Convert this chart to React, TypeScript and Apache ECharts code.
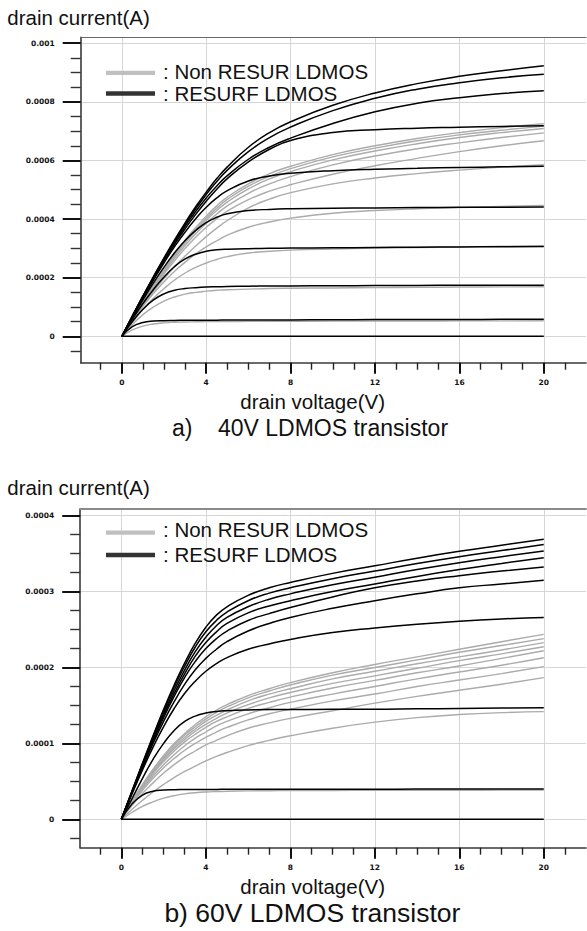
import React, { useEffect, useRef } from "react";
import * as echarts from "echarts";

// Drain voltage sample points (V)
const VOLTS = [0, 0.5, 1, 1.5, 2, 2.5, 3, 3.5, 4, 4.5, 5, 6, 7, 8, 10, 12, 14, 16, 18, 20];

// a) 40V LDMOS — drain current in units of 1e-4 A
const TOP_RESURF: number[][] = [
  [0, 0, 0, 0, 0, 0, 0, 0, 0, 0, 0, 0, 0, 0, 0, 0, 0, 0, 0, 0],
  [0, 0.33, 0.47, 0.52, 0.535, 0.542, 0.546, 0.548, 0.55, 0.552, 0.553, 0.556, 0.558, 0.56, 0.565, 0.57, 0.573, 0.576, 0.578, 0.58],
  [0, 0.5, 0.92, 1.24, 1.45, 1.57, 1.63, 1.66, 1.68, 1.69, 1.7, 1.71, 1.715, 1.72, 1.725, 1.73, 1.735, 1.74, 1.742, 1.745],
  [0, 0.58, 1.12, 1.6, 2.02, 2.38, 2.64, 2.8, 2.9, 2.95, 2.97, 2.99, 3.0, 3.01, 3.02, 3.03, 3.04, 3.05, 3.055, 3.06],
  [0, 0.63, 1.24, 1.82, 2.36, 2.85, 3.27, 3.61, 3.88, 4.06, 4.18, 4.29, 4.33, 4.35, 4.37, 4.38, 4.39, 4.4, 4.405, 4.41],
  [0, 0.66, 1.3, 1.92, 2.51, 3.06, 3.56, 4.01, 4.4, 4.72, 4.97, 5.3, 5.47, 5.56, 5.65, 5.7, 5.73, 5.76, 5.78, 5.8],
  [0, 0.67, 1.33, 1.96, 2.57, 3.14, 3.67, 4.16, 4.61, 5.02, 5.38, 5.95, 6.38, 6.68, 6.95, 7.05, 7.1, 7.13, 7.16, 7.18],
  [0, 0.68, 1.35, 1.99, 2.61, 3.2, 3.75, 4.26, 4.72, 5.13, 5.48, 6.04, 6.45, 6.76, 7.26, 7.66, 7.95, 8.14, 8.28, 8.38],
  [0, 0.69, 1.37, 2.02, 2.65, 3.25, 3.82, 4.35, 4.84, 5.28, 5.67, 6.3, 6.78, 7.14, 7.7, 8.12, 8.43, 8.65, 8.82, 8.94],
  [0, 0.7, 1.38, 2.04, 2.68, 3.29, 3.87, 4.42, 4.92, 5.38, 5.78, 6.45, 6.95, 7.32, 7.88, 8.3, 8.62, 8.87, 9.06, 9.23],
];
const TOP_NON_RESURF: number[][] = [
  [0, 0.22, 0.35, 0.42, 0.46, 0.48, 0.49, 0.495, 0.5, 0.503, 0.505, 0.51, 0.512, 0.514, 0.517, 0.52, 0.523, 0.526, 0.528, 0.53],
  [0, 0.4, 0.74, 1.0, 1.2, 1.34, 1.44, 1.5, 1.54, 1.57, 1.59, 1.61, 1.63, 1.64, 1.65, 1.66, 1.67, 1.68, 1.685, 1.69],
  [0, 0.48, 0.92, 1.3, 1.63, 1.92, 2.16, 2.35, 2.5, 2.62, 2.72, 2.84, 2.9, 2.94, 2.98, 3.01, 3.03, 3.05, 3.07, 3.08],
  [0, 0.53, 1.02, 1.46, 1.86, 2.22, 2.53, 2.81, 3.05, 3.26, 3.45, 3.72, 3.9, 4.03, 4.2, 4.29, 4.35, 4.39, 4.43, 4.46],
  [0, 0.55, 1.06, 1.53, 1.97, 2.37, 2.74, 3.08, 3.4, 3.69, 3.95, 4.38, 4.68, 4.9, 5.2, 5.4, 5.55, 5.67, 5.77, 5.85],
  [0, 0.57, 1.12, 1.63, 2.12, 2.58, 3.0, 3.38, 3.72, 4.01, 4.27, 4.66, 4.95, 5.17, 5.53, 5.82, 6.07, 6.3, 6.5, 6.67],
  [0, 0.58, 1.14, 1.67, 2.18, 2.66, 3.1, 3.5, 3.86, 4.17, 4.45, 4.88, 5.2, 5.45, 5.85, 6.15, 6.4, 6.6, 6.78, 6.94],
  [0, 0.59, 1.16, 1.7, 2.22, 2.72, 3.18, 3.59, 3.96, 4.29, 4.58, 5.03, 5.37, 5.62, 6.02, 6.32, 6.57, 6.78, 6.95, 7.09],
  [0, 0.6, 1.17, 1.72, 2.25, 2.76, 3.23, 3.65, 4.03, 4.37, 4.67, 5.12, 5.46, 5.72, 6.12, 6.42, 6.67, 6.87, 7.03, 7.17],
  [0, 0.6, 1.18, 1.74, 2.28, 2.8, 3.28, 3.71, 4.1, 4.45, 4.75, 5.2, 5.55, 5.8, 6.2, 6.5, 6.75, 6.95, 7.12, 7.25],
];

// b) 60V LDMOS — drain current in units of 1e-4 A
const BOT_RESURF: number[][] = [
  [0, 0, 0, 0, 0, 0, 0, 0, 0, 0, 0, 0, 0, 0, 0, 0, 0, 0, 0, 0],
  [0, 0.2, 0.32, 0.37, 0.385, 0.39, 0.392, 0.393, 0.394, 0.394, 0.395, 0.395, 0.396, 0.396, 0.397, 0.397, 0.398, 0.398, 0.399, 0.399],
  [0, 0.27, 0.54, 0.79, 1.0, 1.17, 1.29, 1.36, 1.4, 1.42, 1.43, 1.44, 1.445, 1.445, 1.45, 1.45, 1.455, 1.46, 1.465, 1.47],
  [0, 0.33, 0.65, 0.95, 1.22, 1.46, 1.66, 1.82, 1.95, 2.05, 2.13, 2.24, 2.31, 2.37, 2.46, 2.52, 2.57, 2.61, 2.64, 2.66],
  [0, 0.35, 0.68, 1.0, 1.29, 1.55, 1.78, 1.97, 2.12, 2.24, 2.34, 2.48, 2.58, 2.66, 2.78, 2.88, 2.97, 3.05, 3.1, 3.149],
  [0, 0.35, 0.7, 1.03, 1.34, 1.62, 1.87, 2.08, 2.25, 2.38, 2.48, 2.62, 2.71, 2.79, 2.93, 3.05, 3.14, 3.21, 3.27, 3.324],
  [0, 0.36, 0.71, 1.05, 1.37, 1.66, 1.92, 2.15, 2.33, 2.47, 2.58, 2.72, 2.81, 2.88, 3.0, 3.1, 3.2, 3.29, 3.37, 3.447],
  [0, 0.36, 0.72, 1.07, 1.4, 1.7, 1.97, 2.21, 2.4, 2.55, 2.66, 2.8, 2.9, 2.97, 3.09, 3.19, 3.29, 3.38, 3.46, 3.535],
  [0, 0.37, 0.73, 1.09, 1.43, 1.74, 2.02, 2.27, 2.47, 2.62, 2.73, 2.88, 2.98, 3.05, 3.17, 3.27, 3.37, 3.46, 3.54, 3.62],
  [0, 0.37, 0.74, 1.1, 1.45, 1.77, 2.06, 2.32, 2.53, 2.69, 2.8, 2.95, 3.05, 3.12, 3.24, 3.34, 3.44, 3.53, 3.61, 3.69],
];
const BOT_NON_RESURF: number[][] = [
  [0, 0.09, 0.17, 0.23, 0.28, 0.31, 0.335, 0.35, 0.36, 0.366, 0.37, 0.375, 0.377, 0.378, 0.38, 0.381, 0.382, 0.383, 0.384, 0.385],
  [0, 0.13, 0.25, 0.36, 0.46, 0.55, 0.63, 0.7, 0.77, 0.83, 0.88, 0.97, 1.04, 1.1, 1.2, 1.28, 1.34, 1.38, 1.405, 1.418],
  [0, 0.18, 0.34, 0.48, 0.61, 0.72, 0.82, 0.9, 0.98, 1.04, 1.1, 1.2, 1.27, 1.33, 1.43, 1.53, 1.62, 1.7, 1.78, 1.866],
  [0, 0.2, 0.38, 0.54, 0.68, 0.8, 0.91, 1.0, 1.08, 1.15, 1.21, 1.31, 1.39, 1.45, 1.56, 1.65, 1.75, 1.835, 1.92, 2.011],
  [0, 0.21, 0.4, 0.57, 0.72, 0.85, 0.97, 1.07, 1.15, 1.23, 1.29, 1.39, 1.47, 1.54, 1.65, 1.75, 1.85, 1.94, 2.03, 2.129],
  [0, 0.22, 0.42, 0.6, 0.76, 0.9, 1.02, 1.12, 1.21, 1.29, 1.35, 1.46, 1.54, 1.61, 1.73, 1.83, 1.93, 2.02, 2.12, 2.221],
  [0, 0.23, 0.43, 0.62, 0.78, 0.93, 1.05, 1.16, 1.25, 1.33, 1.4, 1.51, 1.6, 1.67, 1.79, 1.89, 1.99, 2.09, 2.18, 2.274],
  [0, 0.23, 0.44, 0.63, 0.8, 0.95, 1.08, 1.19, 1.29, 1.37, 1.44, 1.56, 1.65, 1.72, 1.85, 1.95, 2.05, 2.14, 2.23, 2.327],
  [0, 0.24, 0.45, 0.65, 0.82, 0.98, 1.11, 1.22, 1.32, 1.41, 1.48, 1.6, 1.69, 1.77, 1.9, 2.0, 2.1, 2.2, 2.29, 2.38],
  [0, 0.24, 0.46, 0.66, 0.84, 1.0, 1.13, 1.25, 1.35, 1.44, 1.51, 1.63, 1.72, 1.8, 1.93, 2.04, 2.14, 2.24, 2.34, 2.437],
];

// Tick labels
const X_LABELS = ["0", "4", "8", "12", "16", "20"];
const X_MINOR = [-1, 1, 2, 3, 5, 6, 7, 9, 10, 11, 13, 14, 15, 17, 18, 19, 21];
const Y_LABELS_TOP = ["0", "0.0002", "0.0004", "0.0006", "0.0008", "0.001"];
const Y_MINOR_TOP = [-0.00005, 0.00005, 0.0001, 0.00015, 0.00025, 0.0003, 0.00035, 0.00045, 0.0005, 0.00055, 0.00065, 0.0007, 0.00075, 0.00085, 0.0009, 0.00095];
const Y_LABELS_BOT = ["0", "0.0001", "0.0002", "0.0003", "0.0004"];
const Y_MINOR_BOT = [-0.000025, 0.000025, 0.00005, 0.000075, 0.000125, 0.00015, 0.000175, 0.000225, 0.00025, 0.000275, 0.000325, 0.00035, 0.000375];

const LEGEND_NON = ": Non RESUR LDMOS";
const LEGEND_RES = ": RESURF LDMOS";
const Y_NAME = "drain current(A)";
const X_NAME = "drain voltage(V)";
const TITLE_A = "a)    40V LDMOS transistor";
const TITLE_B = "b) 60V LDMOS transistor";

const SANS = "'Liberation Sans', Arial, Helvetica, sans-serif";
const TICK_FONT = "'DejaVu Sans', Verdana, sans-serif";
const AXIS_COLOR = "#3a3a3a";
const GRID_COLOR = "#d6d6d6";

const labelFor = (labels: string[]) => (v: number) => {
  const s = labels.find((l) => Math.abs(Number(l) - v) < 1e-12);
  return s === undefined ? "" : s;
};

export default function App() {
  const ref = useRef<HTMLDivElement>(null);

  useEffect(() => {
    if (!ref.current) return;
    const chart = echarts.init(ref.current, null, { renderer: "svg" });

    const grids = [
      { left: 80.7, right: 1, top: 37.3, height: 325.4 },
      { left: 80.2, right: 1, top: 509, height: 338.7 },
    ];
    const yRanges = [
      { min: -0.00009, max: 0.00102, labels: Y_LABELS_TOP, minor: Y_MINOR_TOP, topColor: "#6a6a6a", topWidth: 1.2 },
      { min: -0.0000374, max: 0.0004088, labels: Y_LABELS_BOT, minor: Y_MINOR_BOT, topColor: "#8a8a8a", topWidth: 1.8 },
    ];
    const xMin = -1.95;
    const xMax = 22;
    const xMajorVals = X_LABELS.map(Number);

    const xAxes: any[] = [];
    const yAxes: any[] = [];
    grids.forEach((_, g) => {
      xAxes.push({
        type: "value", gridIndex: g, position: "bottom", min: xMin, max: xMax,
        axisLine: { show: true, onZero: false, lineStyle: { color: AXIS_COLOR, width: 1.6 } },
        axisTick: { show: true, customValues: xMajorVals, length: 11, lineStyle: { color: "#111", width: 2 } },
        axisLabel: {
          show: true, customValues: xMajorVals, margin: 16, formatter: labelFor(X_LABELS),
          fontFamily: TICK_FONT, fontWeight: "bold", fontSize: 7.5, color: "#111",
        },
        splitLine: { show: true, lineStyle: { color: GRID_COLOR, width: 1 } },
      });
      xAxes.push({
        type: "value", gridIndex: g, position: "bottom", min: xMin, max: xMax,
        axisLine: { show: false, onZero: false },
        axisTick: { show: true, customValues: X_MINOR, length: 7, lineStyle: { color: "#222", width: 1.4 } },
        axisLabel: { show: false },
        splitLine: { show: false },
      });
      xAxes.push({
        type: "value", gridIndex: g, position: "top", min: xMin, max: xMax,
        axisLine: { show: true, onZero: false, lineStyle: { color: yRanges[g].topColor, width: yRanges[g].topWidth } },
        axisTick: { show: false }, axisLabel: { show: false }, splitLine: { show: false },
      });
      const yr = yRanges[g];
      const yMajorVals = yr.labels.map(Number);
      yAxes.push({
        type: "value", gridIndex: g, position: "left", min: yr.min, max: yr.max,
        axisLine: { show: true, onZero: false, lineStyle: { color: AXIS_COLOR, width: 1.6 } },
        axisTick: { show: true, customValues: yMajorVals, length: 18, lineStyle: { color: "#111", width: 2 } },
        axisLabel: {
          show: true, customValues: yMajorVals, margin: 26, formatter: labelFor(yr.labels),
          fontFamily: TICK_FONT, fontWeight: "bold", fontSize: 7.5, color: "#111",
        },
        splitLine: { show: true, lineStyle: { color: GRID_COLOR, width: 1 } },
      });
      yAxes.push({
        type: "value", gridIndex: g, position: "left", min: yr.min, max: yr.max,
        axisLine: { show: false, onZero: false },
        axisTick: { show: true, customValues: yr.minor, length: 10, lineStyle: { color: "#333", width: 1.4 } },
        axisLabel: { show: false },
        splitLine: { show: false },
      });
    });

    const makeSeries = (curves: number[][], g: number, color: string, width: number, name: string, z: number) =>
      curves.map((c) => ({
        type: "line",
        name,
        xAxisIndex: g * 3,
        yAxisIndex: g * 2,
        data: VOLTS.map((v, j) => [v, c[j] * 1e-4]),
        showSymbol: false,
        symbol: "none",
        smooth: 0.5,
        silent: true,
        z,
        lineStyle: { color, width },
      }));

    const series = [
      ...makeSeries(TOP_NON_RESURF, 0, "#ababab", 1.4, "Non RESURF", 2),
      ...makeSeries(TOP_RESURF, 0, "#000000", 1.5, "RESURF", 3),
      ...makeSeries(BOT_NON_RESURF, 1, "#ababab", 1.4, "Non RESURF", 2),
      ...makeSeries(BOT_RESURF, 1, "#000000", 1.5, "RESURF", 3),
    ];

    const legend = (yGray: number, yDark: number, yT1: number, yT2: number) => [
      { type: "line", shape: { x1: 106, y1: yGray, x2: 155, y2: yGray }, style: { stroke: "#c0c0c0", lineWidth: 4.3 }, z: 10 },
      { type: "line", shape: { x1: 106, y1: yDark, x2: 155, y2: yDark }, style: { stroke: "#333333", lineWidth: 4.3 }, z: 10 },
      { type: "text", x: 163, y: yT1, style: { text: LEGEND_NON, fontFamily: SANS, fontSize: 20.5, fill: "#111", verticalAlign: "middle" }, z: 10 },
      { type: "text", x: 163, y: yT2, style: { text: LEGEND_RES, fontFamily: SANS, fontSize: 20.5, fill: "#111", verticalAlign: "middle" }, z: 10 },
    ];

    const graphic = [
      { type: "text", x: 7.3, y: 17, style: { text: Y_NAME, fontFamily: SANS, fontSize: 20.5, fill: "#111", verticalAlign: "middle" } },
      { type: "text", x: 312.6, y: 401.5, style: { text: X_NAME, fontFamily: SANS, fontSize: 20.5, fill: "#111", align: "center", verticalAlign: "middle" } },
      { type: "text", x: 310, y: 428, style: { text: TITLE_A, fontFamily: SANS, fontSize: 23, fill: "#111", align: "center", verticalAlign: "middle" } },
      { type: "text", x: 7.3, y: 487, style: { text: Y_NAME, fontFamily: SANS, fontSize: 20.5, fill: "#111", verticalAlign: "middle" } },
      { type: "text", x: 312.6, y: 886.5, style: { text: X_NAME, fontFamily: SANS, fontSize: 20.5, fill: "#111", align: "center", verticalAlign: "middle" } },
      { type: "text", x: 312.4, y: 913, style: { text: TITLE_B, fontFamily: SANS, fontSize: 26.5, fill: "#111", align: "center", verticalAlign: "middle" } },
      ...legend(72.8, 93.5, 71.5, 93.5),
      ...legend(532.7, 555, 529.5, 554.5),
    ];

    chart.setOption({
      animation: false,
      backgroundColor: "#ffffff",
      grid: grids,
      xAxis: xAxes,
      yAxis: yAxes,
      series,
      graphic,
    });

    return () => chart.dispose();
  }, []);

  return (
    <div
      ref={ref}
      style={{ position: "fixed", left: 0, top: 0, width: 587, height: 931, background: "#fff" }}
    />
  );
}
